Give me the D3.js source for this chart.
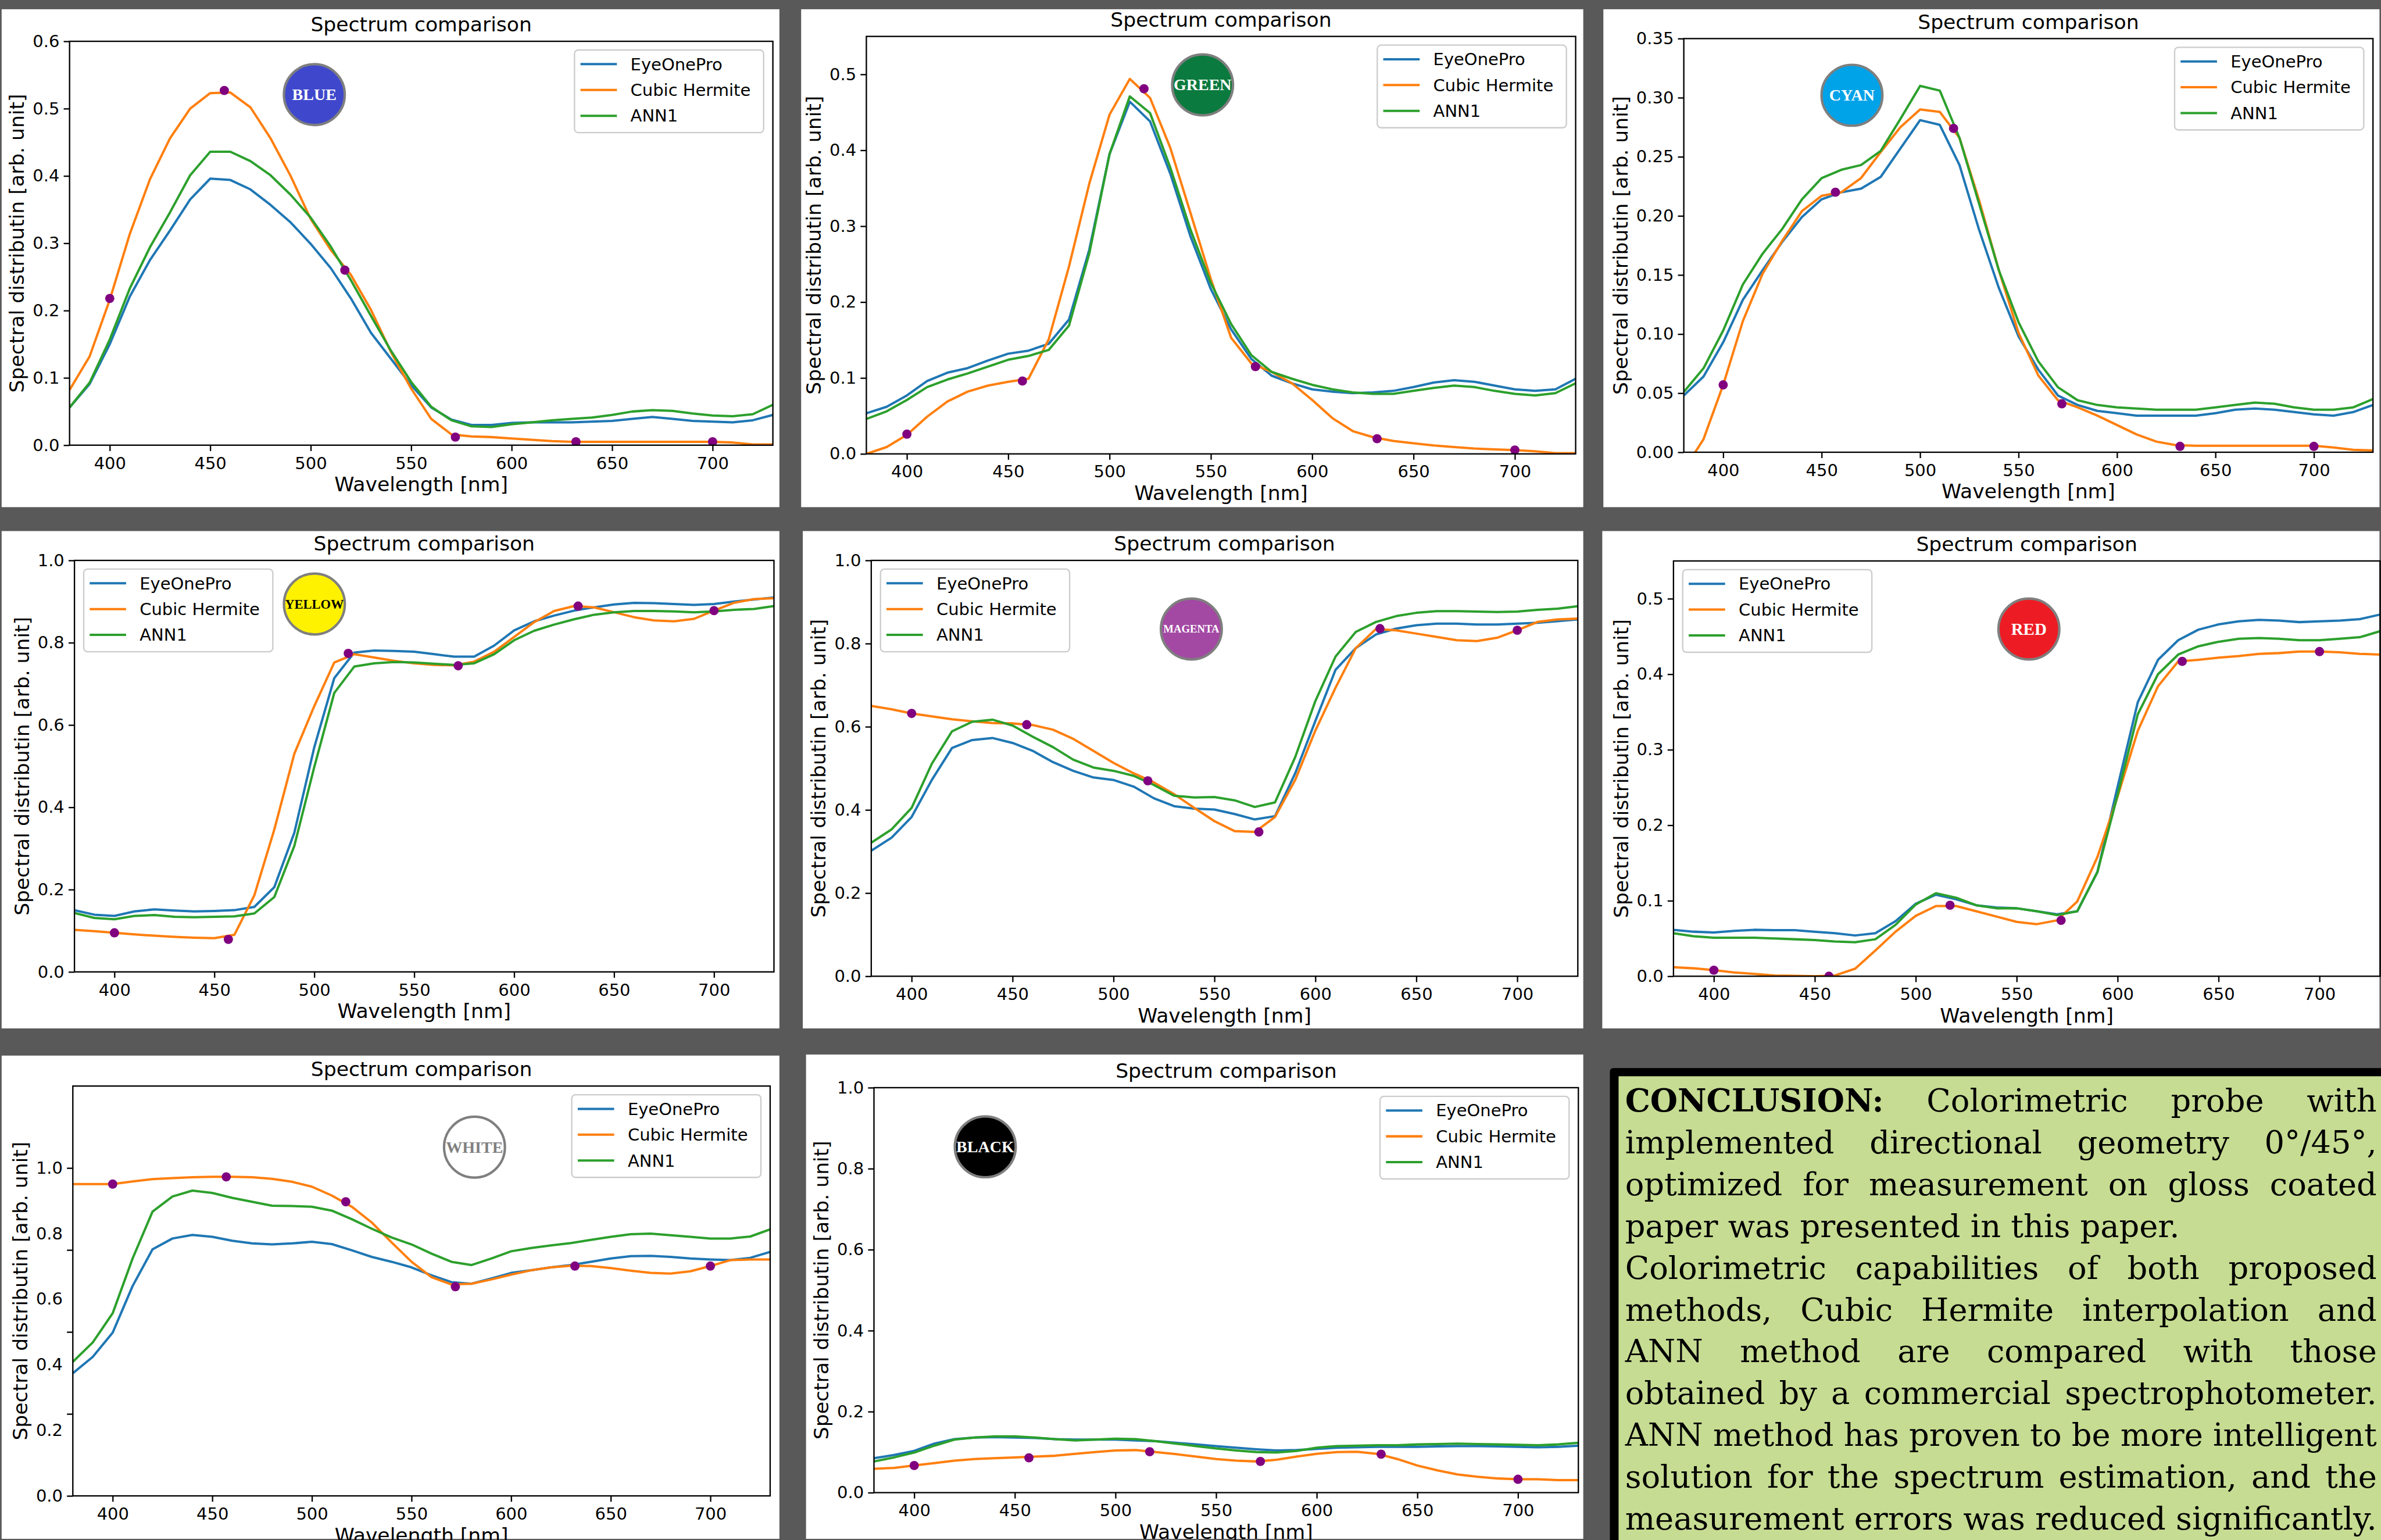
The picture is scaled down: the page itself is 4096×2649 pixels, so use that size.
<!DOCTYPE html>
<html><head><meta charset="utf-8">
<script src="https://cdn.jsdelivr.net/npm/d3@7"></script>
<style>html,body{margin:0;padding:0;background:#595959;overflow:hidden}</style>
</head><body>
<svg id="chart" width="4096" height="2649"></svg>
<script>
// ---------------- DATA ----------------
const wavelengths = [380,390,400,410,420,430,440,450,460,470,480,490,500,510,520,530,540,550,560,570,580,590,600,610,620,630,640,650,660,670,680,690,700,710,720,730];
const dotWavelengths = [400,457,517,572,632,700];
const seriesNames = ["EyeOnePro","Cubic Hermite","ANN1"];
const xTicks = [400,450,500,550,600,650,700];
const panelTitle = "Spectrum comparison";
const xLabel = "Wavelength [nm]";
const yLabel = "Spectral distributin [arb. unit]";

const blueEye  = [0.056,0.091,0.150,0.221,0.275,0.319,0.365,0.396,0.394,0.380,0.357,0.331,0.299,0.263,0.218,0.167,0.128,0.089,0.056,0.038,0.030,0.030,0.033,0.034,0.034,0.034,0.035,0.036,0.039,0.042,0.039,0.036,0.035,0.034,0.037,0.045];
const blueHerm = [0.082,0.132,0.216,0.314,0.395,0.456,0.500,0.523,0.524,0.502,0.456,0.400,0.336,0.290,0.253,0.201,0.138,0.084,0.039,0.016,0.013,0.012,0.010,0.008,0.006,0.005,0.005,0.005,0.005,0.005,0.005,0.005,0.005,0.004,0.001,0.001];
const blueAnn  = [0.056,0.093,0.157,0.233,0.294,0.346,0.401,0.436,0.436,0.422,0.401,0.372,0.338,0.295,0.245,0.192,0.140,0.094,0.057,0.037,0.028,0.027,0.031,0.034,0.037,0.039,0.041,0.045,0.050,0.052,0.051,0.047,0.044,0.043,0.046,0.060];
const blueDots = [0.218,0.527,0.260,0.012,0.005,0.005];

const greenEye  = [0.0535,0.062,0.077,0.096,0.107,0.113,0.123,0.132,0.136,0.145,0.177,0.269,0.395,0.464,0.438,0.369,0.286,0.217,0.164,0.125,0.103,0.093,0.085,0.082,0.080,0.081,0.083,0.088,0.094,0.097,0.095,0.090,0.085,0.083,0.085,0.099];
const greenHerm = [0.000,0.009,0.025,0.049,0.069,0.082,0.090,0.095,0.099,0.151,0.247,0.356,0.447,0.494,0.469,0.403,0.317,0.230,0.153,0.119,0.108,0.093,0.071,0.047,0.030,0.022,0.017,0.014,0.011,0.009,0.007,0.006,0.005,0.0035,0.001,0.001];
const greenAnn  = [0.046,0.056,0.071,0.088,0.098,0.106,0.115,0.124,0.129,0.137,0.169,0.264,0.395,0.471,0.449,0.377,0.295,0.225,0.171,0.130,0.108,0.099,0.091,0.085,0.081,0.079,0.079,0.083,0.087,0.090,0.088,0.083,0.079,0.077,0.080,0.093];
const greenDots = [0.026,0.096,0.481,0.115,0.020,0.005];

const cyanEye  = [0.048,0.064,0.093,0.129,0.154,0.178,0.199,0.214,0.220,0.223,0.233,0.257,0.281,0.277,0.243,0.188,0.139,0.098,0.070,0.048,0.040,0.035,0.033,0.031,0.031,0.031,0.031,0.033,0.036,0.037,0.036,0.034,0.032,0.031,0.034,0.040];
const cyanHerm = [-0.015,0.011,0.057,0.111,0.151,0.179,0.204,0.217,0.220,0.232,0.254,0.275,0.290,0.288,0.266,0.213,0.154,0.101,0.065,0.044,0.038,0.031,0.023,0.015,0.009,0.006,0.0055,0.0055,0.0055,0.0055,0.0055,0.0055,0.0055,0.004,0.002,0.0015];
const cyanAnn  = [0.051,0.071,0.103,0.142,0.168,0.189,0.214,0.232,0.239,0.243,0.255,0.282,0.310,0.306,0.266,0.210,0.154,0.110,0.077,0.055,0.044,0.040,0.038,0.037,0.036,0.036,0.036,0.038,0.040,0.042,0.041,0.038,0.036,0.036,0.038,0.045];
const cyanDots = [0.057,0.220,0.274,0.041,0.005,0.005];

const yellowEye  = [0.150,0.139,0.136,0.147,0.152,0.149,0.147,0.148,0.150,0.158,0.206,0.338,0.546,0.714,0.776,0.781,0.780,0.778,0.772,0.766,0.766,0.793,0.830,0.852,0.866,0.878,0.886,0.893,0.897,0.896,0.894,0.892,0.894,0.900,0.905,0.910];
const yellowHerm = [0.102,0.099,0.095,0.091,0.088,0.085,0.083,0.082,0.090,0.186,0.346,0.530,0.646,0.752,0.772,0.764,0.756,0.750,0.746,0.745,0.754,0.778,0.814,0.850,0.877,0.889,0.886,0.874,0.862,0.854,0.852,0.858,0.878,0.897,0.906,0.908];
const yellowAnn  = [0.143,0.131,0.128,0.136,0.138,0.134,0.133,0.134,0.135,0.142,0.182,0.306,0.498,0.678,0.742,0.750,0.753,0.752,0.749,0.746,0.750,0.772,0.806,0.829,0.844,0.857,0.868,0.874,0.877,0.877,0.876,0.874,0.876,0.880,0.882,0.889];
const yellowDots = [0.095,0.079,0.774,0.744,0.889,0.878];

const magentaEye  = [0.302,0.333,0.383,0.472,0.549,0.568,0.573,0.561,0.542,0.515,0.494,0.478,0.472,0.456,0.428,0.409,0.403,0.401,0.390,0.377,0.385,0.488,0.614,0.737,0.789,0.822,0.836,0.844,0.848,0.848,0.846,0.846,0.848,0.850,0.854,0.858];
const magentaHerm = [0.650,0.642,0.632,0.625,0.618,0.613,0.609,0.608,0.604,0.593,0.571,0.542,0.513,0.488,0.466,0.438,0.405,0.373,0.349,0.347,0.383,0.472,0.591,0.694,0.789,0.835,0.832,0.824,0.816,0.808,0.806,0.814,0.832,0.852,0.858,0.860];
const magentaAnn  = [0.321,0.353,0.405,0.511,0.589,0.612,0.617,0.603,0.576,0.551,0.521,0.502,0.494,0.482,0.460,0.434,0.430,0.431,0.423,0.407,0.418,0.527,0.662,0.769,0.828,0.852,0.866,0.874,0.878,0.878,0.877,0.876,0.877,0.881,0.884,0.890];
const magentaDots = [0.632,0.605,0.470,0.347,0.836,0.832];

const redEye  = [0.0615,0.059,0.058,0.060,0.0615,0.061,0.061,0.059,0.057,0.054,0.057,0.073,0.096,0.108,0.102,0.094,0.091,0.090,0.086,0.082,0.086,0.138,0.251,0.363,0.419,0.445,0.459,0.466,0.470,0.472,0.471,0.469,0.470,0.471,0.473,0.479];
const redHerm = [0.012,0.0105,0.008,0.005,0.003,0.001,0.0005,0.0,0.001,0.010,0.034,0.059,0.080,0.093,0.093,0.086,0.079,0.072,0.069,0.074,0.099,0.158,0.238,0.325,0.384,0.417,0.419,0.422,0.424,0.427,0.428,0.430,0.430,0.429,0.427,0.426];
const redAnn  = [0.057,0.053,0.051,0.051,0.051,0.050,0.049,0.048,0.046,0.045,0.049,0.068,0.095,0.110,0.104,0.094,0.090,0.090,0.086,0.081,0.086,0.138,0.240,0.347,0.400,0.426,0.437,0.443,0.447,0.448,0.447,0.445,0.445,0.447,0.449,0.457];
const redDots = [0.008,0.0,0.094,0.074,0.417,0.430];

const whiteEye  = [0.374,0.424,0.498,0.640,0.752,0.785,0.796,0.790,0.778,0.770,0.767,0.770,0.775,0.768,0.749,0.729,0.714,0.697,0.673,0.652,0.647,0.663,0.680,0.688,0.697,0.704,0.714,0.724,0.731,0.732,0.729,0.724,0.721,0.719,0.726,0.744];
const whiteHerm = [0.951,0.951,0.951,0.959,0.966,0.969,0.972,0.973,0.973,0.972,0.967,0.958,0.943,0.916,0.882,0.834,0.773,0.714,0.667,0.645,0.647,0.660,0.675,0.688,0.697,0.702,0.701,0.695,0.687,0.680,0.678,0.685,0.701,0.719,0.721,0.721];
const whiteAnn  = [0.409,0.468,0.557,0.724,0.867,0.913,0.931,0.924,0.909,0.897,0.885,0.884,0.882,0.870,0.844,0.815,0.788,0.767,0.739,0.714,0.704,0.724,0.746,0.756,0.764,0.771,0.781,0.790,0.798,0.800,0.795,0.790,0.785,0.785,0.791,0.813];
const whiteDots = [0.951,0.973,0.897,0.638,0.701,0.701];

const blackEye  = [0.085,0.093,0.103,0.121,0.132,0.136,0.137,0.136,0.135,0.132,0.131,0.131,0.131,0.129,0.127,0.123,0.119,0.115,0.111,0.107,0.104,0.105,0.108,0.111,0.112,0.113,0.113,0.113,0.114,0.115,0.115,0.114,0.113,0.112,0.113,0.116];
const blackHerm = [0.059,0.061,0.067,0.073,0.079,0.083,0.085,0.087,0.089,0.091,0.096,0.100,0.104,0.105,0.100,0.095,0.089,0.083,0.079,0.077,0.081,0.089,0.096,0.100,0.101,0.096,0.083,0.067,0.055,0.045,0.039,0.035,0.033,0.033,0.031,0.031];
const blackAnn  = [0.077,0.087,0.099,0.116,0.131,0.136,0.139,0.139,0.136,0.132,0.129,0.131,0.133,0.132,0.127,0.121,0.115,0.109,0.104,0.100,0.099,0.103,0.111,0.115,0.116,0.117,0.117,0.119,0.120,0.121,0.120,0.119,0.118,0.117,0.119,0.123];
const blackDots = [0.067,0.086,0.101,0.077,0.095,0.033];

const yTicksA = [0,0.1,0.2,0.3,0.4,0.5,0.6];
const yTicksB = [0,0.1,0.2,0.3,0.4,0.5];
const yTicksC = [0,0.05,0.10,0.15,0.20,0.25,0.30,0.35];
const yTicksD = [0,0.2,0.4,0.6,0.8,1.0];
const yMarksWhite = [0,0.25,0.5,0.75,1.0];

const badgeLabels = ["BLUE","GREEN","CYAN","YELLOW","MAGENTA","RED","WHITE","BLACK"];

const conclusionLines = [
  "CONCLUSION: Colorimetric probe with",
  "implemented directional geometry 0°/45°,",
  "optimized for measurement on gloss coated",
  "paper was presented in this paper.",
  "Colorimetric capabilities of both proposed",
  "methods, Cubic Hermite interpolation and",
  "ANN method are compared with those",
  "obtained by a commercial spectrophotometer.",
  "ANN method has proven to be more intelligent",
  "solution for the spectrum estimation, and the",
  "measurement errors was reduced significantly."
];

// ---------------- LAYOUT (reference pixel space) ----------------
const SCALE = 0.935;
const colors = ["#1f77b4","#ff7f0e","#2ca02c"];
const FONT = "DejaVu Sans";
const panels = [
  {id:"blue", box:[3,17,1434,933], plot:[128,76,1422,819], yMax:0.6, yTicks:yTicksA, fmt:".1f", legend:"right",
   data:[blueEye,blueHerm,blueAnn], dots:blueDots, badge:{fx:0.348,fy:0.132,fill:"#3f48cc",text:"#fff",fs:30,label:badgeLabels[0]}},
  {id:"green", box:[1474,17,2913,933], plot:[1594,67,2899,835], yMax:0.55, yTicks:yTicksB, fmt:".1f", legend:"right",
   data:[greenEye,greenHerm,greenAnn], dots:greenDots, badge:{fx:0.474,fy:0.116,fill:"#0b7a3e",text:"#fff",fs:30,label:badgeLabels[1]}},
  {id:"cyan", box:[2950,17,4378,933], plot:[3098,71,4366,832], yMax:0.35, yTicks:yTicksC, fmt:".2f", legend:"right",
   data:[cyanEye,cyanHerm,cyanAnn], dots:cyanDots, badge:{fx:0.244,fy:0.137,fill:"#00a2e8",text:"#fff",fs:30,label:badgeLabels[2]}},
  {id:"yellow", box:[3,977,1434,1892], plot:[137,1031,1424,1788], yMax:1.0, yTicks:yTicksD, fmt:".1f", legend:"left",
   data:[yellowEye,yellowHerm,yellowAnn], dots:yellowDots, badge:{fx:0.343,fy:0.106,fill:"#fff200",text:"#000",fs:24,label:badgeLabels[3]}},
  {id:"magenta", box:[1477,977,2913,1892], plot:[1603,1031,2903,1796], yMax:1.0, yTicks:yTicksD, fmt:".1f", legend:"left",
   data:[magentaEye,magentaHerm,magentaAnn], dots:magentaDots, badge:{fx:0.453,fy:0.165,fill:"#a349a4",text:"#fff",fs:20,label:badgeLabels[4]}},
  {id:"red", box:[2948,977,4378,1892], plot:[3079,1032,4379,1796], yMax:0.55, yTicks:yTicksB, fmt:".1f", legend:"left",
   data:[redEye,redHerm,redAnn], dots:redDots, badge:{fx:0.503,fy:0.164,fill:"#ed1c24",text:"#fff",fs:31,label:badgeLabels[5]}},
  {id:"white", box:[3,1942,1434,2831], plot:[134,1998,1417,2752], yMax:1.25, yTicks:yTicksD, yMarks:yMarksWhite, fmt:".1f", legend:"right",
   data:[whiteEye,whiteHerm,whiteAnn], dots:whiteDots, badge:{fx:0.576,fy:0.149,fill:"#ffffff",text:"#7f7f7f",fs:30,label:badgeLabels[6]}},
  {id:"black", box:[1483,1940,2913,2831], plot:[1608,2001,2904,2746], yMax:1.0, yTicks:yTicksD, fmt:".1f", legend:"right",
   data:[blackEye,blackHerm,blackAnn], dots:blackDots, badge:{fx:0.158,fy:0.146,fill:"#000000",text:"#fff",fs:30,label:badgeLabels[7]}}
];

// ---------------- DRAW ----------------
const svg = d3.select("#chart");
svg.append("rect").attr("width",4096).attr("height",2649).attr("fill","#595959");
const root = svg.append("g").attr("transform",`scale(${SCALE})`);

function drawPanel(p){
  const g = root.append("g");
  const [L,T,R,B] = p.plot;
  g.append("rect").attr("x",p.box[0]).attr("y",p.box[1]).attr("width",p.box[2]-p.box[0]).attr("height",p.box[3]-p.box[1]).attr("fill","#fff");
  const x = d3.scaleLinear().domain([380,730]).range([L,R]);
  const y = d3.scaleLinear().domain([0,p.yMax]).range([B,T]);
  const clipId = "clip-"+p.id;
  g.append("clipPath").attr("id",clipId).append("rect").attr("x",L).attr("y",T).attr("width",R-L).attr("height",B-T);
  const lg = g.append("g").attr("clip-path",`url(#${clipId})`);
  const line = d3.line().x((d,i)=>x(wavelengths[i])).y(d=>y(d));
  p.data.forEach((s,k)=>{
    lg.append("path").datum(s).attr("d",line).attr("fill","none").attr("stroke",colors[k])
      .attr("stroke-width",4.3).attr("stroke-linejoin","round").attr("stroke-linecap","butt");
  });
  lg.selectAll("circle.dot").data(p.dots).join("circle").attr("class","dot")
    .attr("cx",(d,i)=>x(dotWavelengths[i])).attr("cy",d=>y(d)).attr("r",8.5).attr("fill","#800080");

  // badge
  const bx = L + p.badge.fx*(R-L), by = T + p.badge.fy*(B-T);
  g.append("circle").attr("cx",bx).attr("cy",by).attr("r",56).attr("fill",p.badge.fill).attr("stroke","#7f7f7f").attr("stroke-width",4.5);
  g.append("text").attr("x",bx).attr("y",by+0.34*p.badge.fs).attr("text-anchor","middle")
    .attr("font-family","Liberation Serif").attr("font-weight","bold").attr("font-size",p.badge.fs)
    .attr("fill",p.badge.text).text(p.badge.label);

  // x axis
  const xg = g.append("g").attr("transform",`translate(0,${B})`)
    .call(d3.axisBottom(x).tickValues(xTicks).tickFormat(d3.format("d")).tickSize(10.8).tickPadding(10.8));
  xg.select(".domain").remove();
  xg.attr("font-size",31).attr("font-family",FONT);
  xg.selectAll("line").attr("stroke","#000").attr("stroke-width",2.5);
  xg.selectAll("text").attr("fill","#000");

  // y axis
  const marks = p.yMarks || p.yTicks;
  const yg = g.append("g").attr("transform",`translate(${L},0)`)
    .call(d3.axisLeft(y).tickValues(p.yTicks).tickFormat(d3.format(p.fmt)).tickSize(p.yMarks?0:10.8).tickPadding(p.yMarks?18.5:7.7));
  yg.select(".domain").remove();
  yg.attr("font-size",31).attr("font-family",FONT);
  yg.selectAll("line").attr("stroke","#000").attr("stroke-width",2.5);
  yg.selectAll("text").attr("fill","#000");
  if(p.yMarks){
    const mg = g.append("g").attr("transform",`translate(${L},0)`)
      .call(d3.axisLeft(y).tickValues(marks).tickFormat("").tickSize(10.8));
    mg.select(".domain").remove();
    mg.selectAll("line").attr("stroke","#000").attr("stroke-width",2.5);
  }
  const maxW = d3.max(yg.selectAll("text").nodes(), n=>n.getComputedTextLength());

  // spines
  g.append("rect").attr("x",L).attr("y",T).attr("width",R-L).attr("height",B-T)
    .attr("fill","none").attr("stroke","#000").attr("stroke-width",2.5);

  // title and labels
  g.append("text").attr("x",(L+R)/2).attr("y",T-18).attr("text-anchor","middle")
    .attr("font-family",FONT).attr("font-size",37).attr("fill","#000").text(panelTitle);
  g.append("text").attr("x",(L+R)/2).attr("y",B+85).attr("text-anchor","middle")
    .attr("font-family",FONT).attr("font-size",37).attr("fill","#000").text(xLabel);
  const ylx = L - 18.5 - maxW - 16;
  g.append("text").attr("transform",`translate(${ylx},${(T+B)/2}) rotate(-90)`).attr("text-anchor","middle")
    .attr("font-family",FONT).attr("font-size",37).attr("fill","#000").text(yLabel);

  // legend
  const leg = g.append("g");
  const tmp = leg.append("text").attr("font-family",FONT).attr("font-size",31).text(seriesNames[1]);
  const tw = d3.max(seriesNames, s=>{tmp.text(s); return tmp.node().getComputedTextLength();});
  tmp.remove();
  const lw = 103 + tw + 24, lh = 152;
  const lx = p.legend==="right" ? R - 17 - lw : L + 17;
  const ly = T + 16;
  leg.append("rect").attr("x",lx).attr("y",ly).attr("width",lw).attr("height",lh).attr("rx",7)
    .attr("fill","#fff").attr("fill-opacity",0.8).attr("stroke","#cccccc").attr("stroke-width",2.5);
  seriesNames.forEach((s,k)=>{
    const cy = ly + 26 + k*47.5;
    leg.append("line").attr("x1",lx+11).attr("x2",lx+78).attr("y1",cy).attr("y2",cy)
      .attr("stroke",colors[k]).attr("stroke-width",4.3);
    leg.append("text").attr("x",lx+103).attr("y",cy+11).attr("font-family",FONT).attr("font-size",31)
      .attr("fill","#000").text(s);
  });
}
panels.forEach(drawPanel);

// conclusion box
const cg = root.append("g");
cg.append("rect").attr("x",2962).attr("y",1965).attr("width",1500).attr("height",1000).attr("rx",6).attr("fill","#000");
cg.append("rect").attr("x",2978).attr("y",1980).attr("width",1500).attr("height",1000).attr("fill","#c6dc92");
const cLeft = 2990, cRight = 4373, baseY = 2045, lineStep = 76.9;
let cfs = 58;
function layoutConclusion(fs){
  cg.selectAll("text.cl").remove();
  let ok = true;
  conclusionLines.forEach((ln,i)=>{
    const words = ln.split(" ");
    const by = baseY + i*lineStep;
    const nodes = words.map((w,j)=> cg.append("text").attr("class","cl").attr("font-family","DejaVu Serif")
      .attr("font-size",fs).attr("font-weight",(i===0&&j===0)?"bold":"normal").attr("fill","#000").attr("y",by).text(w));
    const widths = nodes.map(n=>n.node().getComputedTextLength());
    const total = d3.sum(widths);
    const justify = !(i===3 || i===conclusionLines.length-1);
    let gap = justify ? (cRight-cLeft-total)/(words.length-1) : fs*0.318;
    if(gap < fs*0.2) ok = false;
    let xx = cLeft;
    nodes.forEach((n,j)=>{ n.attr("x",xx); xx += widths[j]+gap; });
  });
  return ok;
}
while(!layoutConclusion(cfs) && cfs > 40) cfs -= 1;
</script>
</body></html>
